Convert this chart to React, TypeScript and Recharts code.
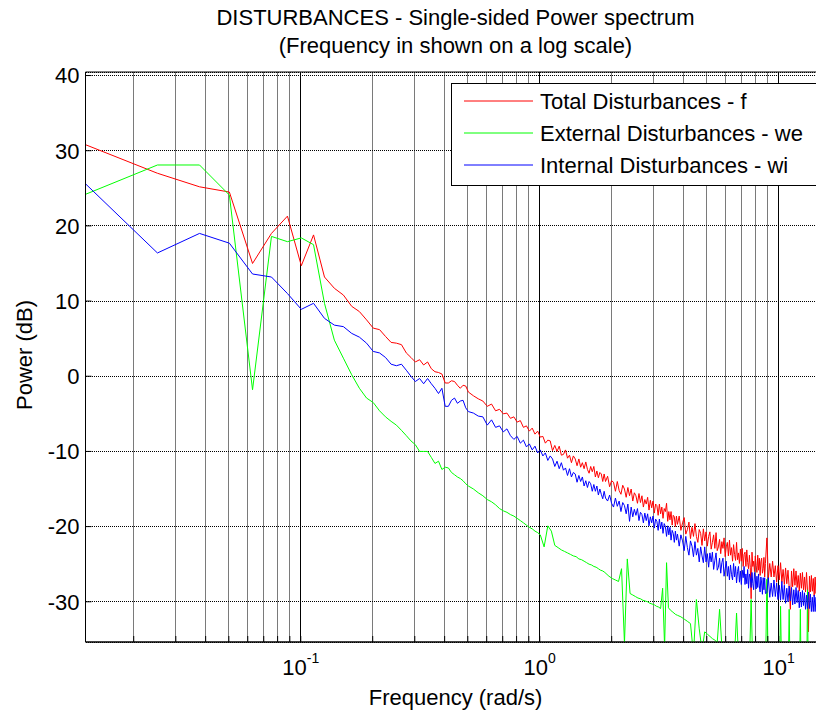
import React from 'react';
import { LineChart, Line, XAxis, YAxis, CartesianGrid, ReferenceArea, ReferenceLine, Label } from 'recharts';

// FFT frequency resolution (rad/s) and axis limits
const DW = (2 * Math.PI) / 500;
const F_MAX = Math.PI / 0.2;

const FONT = '"Liberation Sans", Arial, Helvetica, sans-serif';

const titleLines = ['DISTURBANCES - Single-sided Power spectrum', '(Frequency in shown on a log scale)'];
const xLabel = 'Frequency (rad/s)';
const yLabel = 'Power (dB)';

// FFT bin numbers read for the total (f) and internal (wi) spectra
const fwiBins = [
  1, 2, 3, 4, 5, 6, 7, 8, 9, 10, 11, 12, 13, 14, 15, 16, 17, 18, 19, 20,
  21, 22, 23, 24, 25, 26, 27, 28, 29, 30, 31, 32, 33, 34, 35, 36, 37, 38, 39, 40,
  42, 44, 46, 48, 50, 52, 54, 56, 58, 60, 62, 64, 66, 68, 70, 72, 74, 76, 78, 80,
  82, 84, 86, 88, 90, 92, 94, 96, 98, 100, 102, 104, 106, 108, 110, 112, 114, 116,
  118, 120, 122, 124, 126, 128, 130, 132, 134, 136, 138, 140, 142, 144, 146, 148, 150,
  153, 156, 159, 162, 165, 168, 171, 174, 177, 180,
  183, 186, 189, 192, 195, 198, 201, 204, 207, 210,
  213, 216, 219, 222, 225, 228, 231, 234, 237, 240,
  243, 246, 249, 252, 255, 258, 261, 264, 267, 270,
  273, 276, 279, 282, 285, 288, 291, 294, 297, 300,
  305, 310, 315, 320, 325, 330, 335, 340, 345, 350,
  355, 360, 365, 370, 375, 380, 385, 390, 395, 400,
  405, 410, 415, 420, 425, 430, 435, 440, 445, 450,
  455, 460, 465, 470, 475, 480, 485, 490, 495, 500,
  505, 510, 515, 520, 525, 530, 535, 540, 545, 550,
  555, 560, 565, 570, 575, 580, 585, 590, 595, 600,
  605, 610, 615, 620, 625, 630, 635, 640, 645, 650,
  655, 660, 665, 670, 675, 680, 685, 690, 695, 700,
  710, 720, 730, 740, 750, 760, 770, 780, 790, 800,
  810, 820, 830, 840, 850, 860, 870, 880, 890, 900,
  910, 920, 930, 940, 950, 960, 970, 980, 990, 1000,
  1010, 1020, 1030, 1040, 1050, 1060, 1070, 1080, 1090, 1100,
  1110, 1120, 1130, 1140, 1150, 1160, 1170, 1180, 1190, 1200,
  1210, 1220, 1230, 1240, 1250,
];

// Total Disturbances - f (dB)
const totalDb = [
  30.8, 27.0, 25.2, 24.5, 15.0, 19.0, 21.3, 14.7, 18.8, 13.2,
  11.7, 10.8, 9.3, 8.6, 7.5, 6.4, 6.2, 5.3, 4.5, 4.4,
  4.2, 3.1, 2.5, 1.9, 2.2, 1.5, 1.9, 1.0, 0.6, 0.5,
  0.3, -0.9, -0.9, -0.6, -0.7, -1.2, -1.6, -1.2, -1.3, -2.1,
  -2.6, -3.0, -3.3, -4.0, -3.7, -4.6, -4.4, -5.0, -4.9, -5.6,
  -5.4, -6.1, -5.9, -6.8, -6.6, -7.3, -6.9, -7.7, -7.3, -8.1,
  -8.0, -8.9, -8.5, -8.6, -9.9, -9.2, -10.0, -9.3, -10.5, -10.4, -9.8, -10.9, -10.5, -11.5, -10.6, -11.0, -11.9, -11.0,
  -12.1, -11.5, -12.3, -11.4, -12.4, -12.9, -12.0, -12.7, -12.0, -13.4, -12.6, -13.5, -12.8, -13.0, -14.0, -13.0, -14.0,
  -13.3, -14.7, -13.9, -14.1, -15.3, -14.0, -15.2, -15.7, -14.5, -15.0,
  -16.1, -14.8, -15.9, -15.0, -16.6, -15.5, -15.9, -16.9, -15.6, -16.8,
  -15.9, -17.4, -16.4, -17.0, -16.1, -17.8, -16.5, -17.5, -16.6, -18.2,
  -17.0, -17.2, -18.5, -17.0, -18.3, -17.4, -18.9, -17.6, -18.0, -16.9,
  -19.3, -18.0, -19.1, -18.0, -19.8, -18.5, -18.7, -20.0, -18.6, -19.7,
  -18.6, -20.5, -19.5, -18.8, -21.0, -20.4, -19.4, -21.6, -20.1, -21.3,
  -19.6, -21.3, -22.1, -20.4, -20.9, -22.5, -20.3, -21.9, -20.7, -22.6,
  -21.3, -20.7, -23.0, -22.1, -21.1, -22.9, -20.8, -23.2, -22.7, -21.7,
  -23.6, -22.0, -22.9, -21.5, -24.0, -22.7, -22.1, -23.9, -21.8, -23.8,
  -22.8, -24.6, -22.4, -23.7, -24.5, -22.1, -24.4, -23.5, -24.9, -23.0,
  -24.6, -22.9, -25.3, -23.7, -23.4, -25.3, -23.1, -24.8, -25.6, -23.8,
  -25.4, -29.6, -23.4, -25.3, -24.6, -26.0, -23.9, -25.2, -26.1, -23.8,
  -25.8, -24.2, -26.5, -24.7, -24.2, -26.2, -25.6, -24.1, -26.7, -24.9,
  -21.5, -26.9, -24.9, -26.7, -24.6, -26.7, -25.2, -27.4, -25.2, -27.1,
  -24.8, -27.4, -25.7, -27.7, -25.5, -27.6, -25.8, -28.1, -31.0, -25.9,
  -28.0, -25.6, -27.8, -25.9, -28.1, -26.5, -28.6, -26.2, -28.2, -26.1,
  -28.4, -26.7, -28.7, -26.1, -28.5, -34.0, -26.6, -28.7, -26.5, -28.6,
  -26.9, -29.2, -26.7, -28.9, -27.0, -29.1, -27.3, -29.3, -26.8, -29.1,
  -27.2, -29.3, -27.6, -29.4, -27.7,
];

// Internal Disturbances - wi (dB)
const internalDb = [
  25.6, 16.4, 19.0, 17.7, 13.6, 13.2, 11.0, 8.9, 9.7, 7.7,
  6.8, 6.6, 5.7, 5.2, 4.4, 3.3, 3.1, 2.5, 1.6, 1.4,
  1.6, 0.8, 0.0, -0.7, -0.3, -1.0, -0.3, -1.0, -1.6, -2.3,
  -1.6, -4.0, -4.0, -3.2, -2.9, -3.6, -3.3, -3.2, -4.2, -4.7,
  -4.9, -5.3, -5.4, -6.5, -5.8, -6.8, -6.6, -7.4, -7.0, -7.9,
  -8.4, -8.0, -8.9, -8.5, -9.4, -9.0, -9.8, -9.3, -10.2, -9.8,
  -10.6, -10.2, -11.2, -10.6, -11.0, -12.0, -11.3, -12.3, -11.5, -12.5, -12.2, -13.2, -12.3, -13.4, -12.8, -13.0, -14.1, -13.2,
  -14.0, -13.4, -14.6, -13.9, -14.8, -14.0, -14.3, -15.3, -14.4, -15.3, -14.6, -15.8, -15.0, -15.7, -16.3, -15.3, -16.2,
  -16.6, -15.8, -16.9, -17.4, -16.2, -17.3, -16.6, -18.0, -16.8, -17.2,
  -18.3, -17.0, -19.3, -17.4, -18.7, -17.7, -18.5, -17.6, -19.2, -18.1,
  -18.4, -19.5, -18.2, -19.2, -18.3, -19.9, -18.7, -19.5, -18.6, -20.2,
  -19.0, -19.3, -20.5, -19.0, -20.3, -19.4, -20.9, -19.6, -20.0, -21.3,
  -19.9, -21.1, -20.1, -21.8, -20.5, -20.9, -22.1, -20.6, -21.8, -21.0,
  -22.6, -21.1, -21.9, -23.2, -21.3, -22.8, -23.8, -21.9, -22.6, -24.0,
  -22.0, -23.8, -22.9, -24.7, -22.7, -23.9, -24.8, -22.7, -24.7, -23.6,
  -25.4, -23.5, -24.7, -23.4, -25.7, -24.5, -23.5, -25.8, -25.4, -24.2,
  -26.2, -24.8, -24.2, -26.6, -25.6, -24.6, -26.6, -25.3, -27.1, -25.1,
  -26.4, -27.1, -24.9, -26.7, -25.3, -27.5, -26.0, -25.3, -27.4, -25.9,
  -27.7, -25.8, -26.8, -25.3, -27.7, -26.3, -27.6, -25.7, -28.2, -26.3,
  -26.8, -28.1, -26.1, -27.6, -28.4, -26.1, -27.0, -28.3, -26.6, -28.1,
  -26.3, -27.9, -28.7, -26.7, -27.5, -29.0, -26.8, -28.4, -26.8, -28.9,
  -28.8, -26.8, -29.4, -27.5, -29.3, -27.1, -29.3, -27.5, -29.7, -27.8,
  -29.8, -27.3, -29.7, -27.8, -30.2, -28.2, -30.0, -27.9, -29.9, -28.1,
  -30.4, -28.4, -30.3, -28.1, -30.1, -28.5, -30.8, -28.7, -30.7, -28.5,
  -30.5, -28.8, -31.0, -29.1, -30.9, -28.7, -30.9, -29.0, -31.3, -29.4,
  -31.3, -29.1, -31.3, -29.4, -31.8, -29.6, -31.6, -29.5, -31.5, -29.7,
  -31.9, -29.9, -31.8, -29.7, -31.8,
];

// FFT bin numbers read for the external (we) spectrum
const weBins = [
  1, 2, 3, 4, 5, 6, 7, 8, 9, 10, 11, 12, 13, 14, 15, 16, 17, 18, 19, 20,
  21, 22, 23, 24, 25, 26, 27, 28, 29, 30, 31, 32, 33, 34, 35, 36, 37, 38, 39, 40,
  42, 44, 46, 48, 50, 52, 54, 56, 58, 60, 62, 64, 66, 68, 70, 72, 74, 76, 78, 80,
  83, 86, 89, 92, 95, 98, 101, 104, 107, 110, 113, 116, 119, 122, 125, 128, 131, 134, 137, 140, 143, 146, 149,
  155, 160, 165, 170, 175, 180, 185, 190, 195, 200, 205, 210, 215, 220, 225, 230, 235, 240, 245, 250,
  255, 260, 265, 270, 275, 280, 285, 290, 295, 300,
  310, 320, 330, 340, 350, 360, 370, 380, 390, 400,
  410, 420, 430, 440, 450, 460, 470, 480, 490, 500,
  510, 520, 530, 540, 550, 560, 570, 580, 590, 600,
  610, 620, 630, 640, 650, 660, 670, 680, 690, 700,
  710, 720, 730, 740, 750, 760, 770, 780, 790, 800,
  810, 820, 830, 840, 850, 860, 870, 880, 890, 900,
  910, 920, 930, 940, 950, 960, 970, 980, 990, 1000,
  1010, 1020, 1030, 1040, 1050, 1060, 1070, 1080, 1090, 1100,
  1110, 1120, 1130, 1140, 1150, 1160, 1170, 1180, 1190, 1200,
  1210, 1220, 1230, 1240, 1250,
];

// External Disturbances - we (dB)
const externalDb = [
  24.2, 28.1, 28.1, 24.1, -1.8, 18.6, 17.9, 18.4, 17.5, 9.7,
  4.8, 2.4, 0.2, -1.6, -2.9, -3.5, -4.6, -5.4, -6.0, -6.5,
  -7.2, -7.9, -8.6, -9.1, -10.0, -10.0, -10.0, -10.8, -11.6, -11.3,
  -12.4, -12.1, -12.2, -12.8, -13.1, -13.4, -13.6, -13.9, -14.3, -14.6,
  -15.0, -15.5, -15.9, -16.4, -16.7, -17.1, -17.6, -17.9, -18.1, -18.4,
  -18.6, -18.9, -19.2, -19.5, -19.8, -20.1, -20.3, -20.6, -20.8, -21.1,
  -22.7, -19.9, -20.6, -22.5, -22.8, -23.1, -23.3, -23.5, -23.7, -23.9, -24.0, -24.3,
  -24.4, -24.6, -24.8, -25.0, -25.1, -25.3, -25.4, -25.6, -25.8, -25.9, -26.1,
  -26.6, -26.9, -27.1, -27.3, -25.6, -35.5, -24.3, -28.9, -29.1, -29.3,
  -29.5, -29.6, -29.8, -29.9, -30.0, -30.2, -30.3, -30.4, -30.6, -30.7,
  -30.9, -28.2, -36.0, -24.8, -30.8, -31.1, -31.3, -31.5, -31.7, -31.8,
  -32.0, -32.3, -32.6, -32.9, -37.0, -29.7, -33.6, -36.5, -34.0, -34.3,
  -34.6, -34.9, -35.1, -35.4, -31.0, -35.9, -36.1, -36.3, -36.5, -36.7,
  -36.9, -37.1, -31.5, -37.4, -37.6, -37.8, -38.0, -38.1, -38.3, -38.5,
  -29.7, -38.8, -38.9, -39.1, -39.2, -39.4, -39.5, -39.7, -39.8, -40.0,
  -27.0, -40.2, -40.4, -40.5, -40.6, -40.7, -40.9, -41.0, -41.1, -41.2,
  -30.6, -41.4, -41.5, -41.6, -41.7, -41.8, -41.9, -31.0, -42.1, -42.2,
  -42.3, -42.4, -42.5, -42.6, -42.7, -42.8, -42.9, -31.0, -43.0, -43.1,
  -43.2, -43.3, -43.4, -43.5, -28.4, -43.6, -43.7, -43.8, -43.9, -44.0,
  -44.1, -44.2, -44.3, -44.4, -44.5, -44.5, -44.6, -44.7, -44.8, -44.8,
  -44.9, -45.0, -45.0, -45.1, -45.2,
];

const xTicks = [
  0.02, 0.03, 0.04, 0.05, 0.06, 0.07, 0.08, 0.09,
  0.1, 0.2, 0.3, 0.4, 0.5, 0.6, 0.7, 0.8, 0.9,
  1, 2, 3, 4, 5, 6, 7, 8, 9, 10,
];
const decades = [0.1, 1, 10];
const decadeExponents: Record<string, string> = { '0.1': '-1', '1': '0', '10': '1' };
const yTicks = [-30, -20, -10, 0, 10, 20, 30, 40];
const Y_DOMAIN: [number, number] = [-35.35, 40.47];

const fwiRows = fwiBins.map((k, i) => ({ freq: k * DW, total: totalDb[i], internal: internalDb[i] }));
const weRows = weBins.map((k, i) => ({ freq: k * DW, external: externalDb[i] }));

const series = [
  { key: 'total', name: 'Total Disturbances - f', color: '#ff0000', data: fwiRows },
  { key: 'external', name: 'External Disturbances - we', color: '#00ff00', data: weRows },
  { key: 'internal', name: 'Internal Disturbances - wi', color: '#0000ff', data: fwiRows },
];

const XTick = (props: any) => {
  const { x, y, payload } = props;
  const exp = decadeExponents[String(payload.value)];
  if (exp === undefined) return <g />;
  return (
    <text x={x} y={y + 33} textAnchor="middle" fontSize={22} fontFamily={FONT} fill="#000">
      <tspan>10</tspan>
      <tspan dy={-11.7} fontSize={14}>{exp}</tspan>
    </text>
  );
};

const XAxisLabel = (props: any) => {
  const vb = props.viewBox || { x: 85.5, y: 642, width: 740, height: 40 };
  return (
    <text x={vb.x + vb.width / 2} y={vb.y + 62.5} textAnchor="middle" fontSize={22} fontFamily={FONT} fill="#000">
      {xLabel}
    </text>
  );
};

const YAxisLabel = (props: any) => {
  const vb = props.viewBox || { x: 5.5, y: 72, width: 80, height: 570 };
  const cx = 31.5;
  const cy = vb.y + vb.height / 2 - 2;
  return (
    <text x={cx} y={cy} transform={`rotate(-90 ${cx} ${cy})`} textAnchor="middle" fontSize={22} fontFamily={FONT} fill="#000">
      {yLabel}
    </text>
  );
};

export default function App() {
  return (
    <div style={{ position: 'absolute', left: 0, top: 0, width: 816, height: 713, overflow: 'hidden', background: '#fff' }}>
      <LineChart width={840} height={713} margin={{ top: 72, right: 14.4, bottom: 31, left: 5.5 }}>
        <CartesianGrid horizontal={false} stroke="#7a7a7a" shapeRendering="crispEdges" />
        <CartesianGrid vertical={false} stroke="#000" strokeDasharray="1 1" shapeRendering="crispEdges" />
        <XAxis
          dataKey="freq"
          type="number"
          scale="log"
          domain={[DW, F_MAX]}
          allowDataOverflow
          ticks={xTicks}
          interval={0}
          height={40}
          tick={<XTick />}
          tickSize={-6}
          tickMargin={6}
          tickLine={{ stroke: '#000' }}
          axisLine={{ stroke: '#000' }}
        >
          <Label content={<XAxisLabel />} />
        </XAxis>
        <YAxis
          type="number"
          domain={Y_DOMAIN}
          allowDataOverflow
          ticks={yTicks}
          interval={0}
          width={80}
          tickSize={-6}
          tickMargin={12}
          tick={{ fontSize: 22, fill: '#000', fontFamily: FONT }}
          tickLine={{ stroke: '#000' }}
          axisLine={{ stroke: '#000' }}
        >
          <Label content={<YAxisLabel />} />
        </YAxis>
        {decades.map((d) => (
          <ReferenceLine key={d} x={d} stroke="#000" strokeWidth={1} shapeRendering="crispEdges" />
        ))}
        <ReferenceArea x1={DW} x2={F_MAX} y1={Y_DOMAIN[0]} y2={Y_DOMAIN[1]} fill="none" stroke="#000" strokeWidth={1} ifOverflow="visible" />
        {series.map((s) => (
          <Line
            key={s.key}
            data={s.data}
            dataKey={s.key}
            name={s.name}
            type="linear"
            stroke={s.color}
            strokeWidth={1}
            dot={false}
            activeDot={false}
            isAnimationActive={false}
          />
        ))}
      </LineChart>
      <svg width={816} height={713} style={{ position: 'absolute', left: 0, top: 0, pointerEvents: 'none' }}>
        <g fontFamily={FONT} fontSize={22} fill="#000" textAnchor="middle">
          <text x={455.5} y={25}>{titleLines[0]}</text>
          <text x={455.5} y={52.5}>{titleLines[1]}</text>
        </g>
        <rect x={451.5} y={83.5} width={380} height={102} fill="#fff" stroke="#000" strokeWidth={1} />
        {series.map((s, i) => (
          <g key={s.key}>
            <line x1={464} x2={533} y1={101 + i * 32} y2={101 + i * 32} stroke={s.color} strokeWidth={1} />
            <text x={540} y={109.3 + i * 32} fontFamily={FONT} fontSize={22} fill="#000">{s.name}</text>
          </g>
        ))}
      </svg>
    </div>
  );
}
